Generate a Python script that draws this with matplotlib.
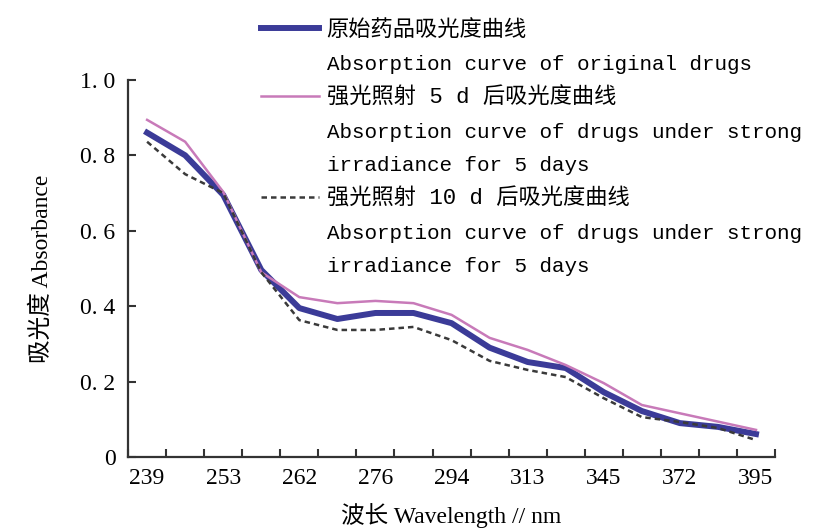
import numpy as np
import matplotlib
matplotlib.use('Agg')
import matplotlib.pyplot as plt
from matplotlib.lines import Line2D

# Wavelength tick labels (every other sample point is labelled)
wavelengths = ['239', '253', '262', '276', '294', '313', '345', '372', '395']

# Absorbance values (17 sample points)
original = [0.86, 0.80, 0.695, 0.496, 0.395, 0.366, 0.382, 0.382, 0.355,
            0.29, 0.252, 0.236, 0.172, 0.122, 0.09, 0.08, 0.061]
light_5d = [0.894, 0.836, 0.703, 0.49, 0.424, 0.408, 0.414, 0.408, 0.377,
            0.316, 0.284, 0.244, 0.196, 0.138, 0.116, 0.094, 0.072]
light_10d = [0.836, 0.75, 0.70, 0.49, 0.363, 0.337, 0.337, 0.345, 0.31,
             0.255, 0.231, 0.212, 0.156, 0.106, 0.093, 0.077, 0.045]

y_ticks = [0, 0.2, 0.4, 0.6, 0.8, 1.0]
y_labels = ['0', '0. 2', '0. 4', '0. 6', '0. 8', '1. 0']

legend_rows = ['原始药品吸光度曲线',
               'Absorption curve of original drugs',
               '强光照射 5 d 后吸光度曲线',
               'Absorption curve of drugs under strong',
               'irradiance for 5 days',
               '强光照射 10 d 后吸光度曲线',
               'Absorption curve of drugs under strong',
               'irradiance for 5 days']

serif = ['Liberation Serif', 'Noto Sans CJK SC']
mono = ['Liberation Mono', 'Noto Sans CJK SC']

c_orig = '#3b3b98'
c_5d = '#c87ab9'
c_10d = '#3a3a3a'

fig = plt.figure(figsize=(8.21, 5.29), dpi=100)
ax = fig.add_axes([0.156, 0.136, 0.788, 0.713])

x = np.arange(len(original))
l1, = ax.plot(x, original, color=c_orig, lw=4.3)
l2, = ax.plot(x, light_5d, color=c_5d, lw=1.8)
l3, = ax.plot(x, light_10d, color=c_10d, lw=1.8, ls=(0, (2.2, 1.6)))

ax.set_xlim(-0.5, len(original) - 0.5)
ax.set_ylim(0, 1.0)

# tick marks sit between samples, labels under every other sample
ax.set_xticks(np.arange(-0.5, len(original), 1.0))
ax.set_xticklabels([])
ax.set_xticks(np.arange(0, len(original), 2), minor=True)
ax.set_xticklabels(wavelengths, minor=True, family=serif, fontsize=17)
ax.tick_params(axis='x', which='minor', length=0, pad=8)
ax.tick_params(axis='x', which='major', direction='in', length=6, width=1.5, color='#333333')

ax.set_yticks(y_ticks)
ax.set_yticklabels(y_labels, family=serif, fontsize=17)
ax.tick_params(axis='y', direction='in', length=6, width=1.5, color='#333333', pad=9)

for s in ['top', 'right']:
    ax.spines[s].set_visible(False)
for s in ['left', 'bottom']:
    ax.spines[s].set_linewidth(1.6)
    ax.spines[s].set_color('#333333')

ax.set_xlabel('波长 Wavelength // nm', family=serif, fontsize=17, labelpad=10)
ax.set_ylabel('吸光度 Absorbance', family=serif, fontsize=17, labelpad=20)

blank = Line2D([], [], color='none')
handles = [l1, blank, l2, blank, blank, l3, blank, blank]
leg = fig.legend(handles, legend_rows, loc='upper left',
                 bbox_to_anchor=(0.318, 0.963), frameon=False,
                 prop={'family': mono, 'size': 15}, handlelength=2.8,
                 handletextpad=0.35, labelspacing=0.67, borderpad=0,
                 borderaxespad=0)
for i in [0, 2, 5]:
    leg.get_texts()[i].set_fontsize(16)

fig.savefig('out.png', dpi=100)
